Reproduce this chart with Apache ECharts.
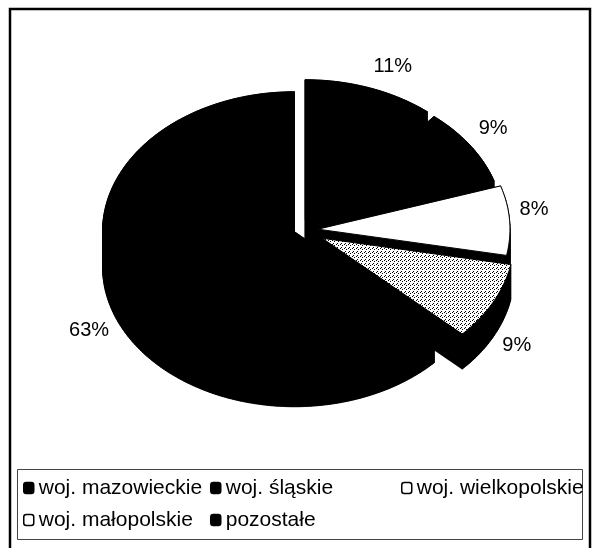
<!DOCTYPE html>
<html>
<head>
<meta charset="utf-8">
<script src="https://cdn.jsdelivr.net/npm/echarts@6/dist/echarts.min.js"></script>
<style>
  body{margin:0;background:#fff;}
  #main{width:594px;height:548px;}
</style>
</head>
<body>
<div id="main"></div>
<script>
  // data
  var names = ['woj. mazowieckie', 'woj. śląskie', 'woj. wielkopolskie', 'woj. małopolskie', 'pozostałe'];
  var values = [11, 9, 8, 9, 63];

  // layout of the tilted pie (top face ellipse + side depth)
  var cx = 300, cy = 230, rx = 192, ry = 140, depth = 35;
  var explode = [15, 14, 18, 25, 6];
  var font = 'Liberation Sans';

  // stippled fill for małopolskie
  var dots = document.createElement('canvas');
  dots.width = 4; dots.height = 4;
  var g = dots.getContext('2d');
  g.fillStyle = '#fff'; g.fillRect(0, 0, 4, 4);
  g.fillStyle = '#000';
  g.fillRect(0, 0, 1, 1); g.fillRect(2, 1, 1, 1); g.fillRect(1, 3, 1, 1);
  var fills = ['#000', '#000', '#fff', {type: 'pattern', image: dots, repeat: 'repeat'}, '#000'];
  var legendFills = ['#000', '#000', '#fff', '#fff', '#000'];

  var total = values.reduce(function (a, b) { return a + b; }, 0);

  function ept(ox, oy, a) {
    return [ox + rx * Math.sin(a), oy - ry * Math.cos(a)];
  }
  function down(p) { return [p[0], p[1] + depth]; }

  function renderSlice(params, api) {
    var i = api.value(0);
    var before = 0;
    for (var k = 0; k < i; k++) before += values[k];
    var a0 = before / total * 2 * Math.PI;
    var a1 = (before + values[i]) / total * 2 * Math.PI;
    var mid = (a0 + a1) / 2;
    var s = Math.sin(mid), c = Math.cos(mid);
    var ox = cx + explode[i] * s;
    var oy = cy - explode[i] * c * ry / rx;
    var o = [ox, oy];
    var n = Math.max(2, Math.ceil((a1 - a0) / (Math.PI / 180)));
    var arc = [];
    for (var j = 0; j <= n; j++) arc.push(ept(ox, oy, a0 + (a1 - a0) * j / n));

    var wall = {fill: '#000', stroke: '#000', lineWidth: 0.5};
    var children = [];
    // side walls
    children.push({type: 'polygon', z2: 1, shape: {points: [down(o)].concat(arc.map(down))}, style: wall});
    children.push({type: 'polygon', z2: 1, shape: {points: [o, arc[0], down(arc[0]), down(o)]}, style: wall});
    children.push({type: 'polygon', z2: 1, shape: {points: [o, arc[n], down(arc[n]), down(o)]}, style: wall});
    for (j = 0; j < n; j++) {
      children.push({type: 'polygon', z2: 1, shape: {points: [arc[j], arc[j + 1], down(arc[j + 1]), down(arc[j])]}, style: wall});
    }
    // top face
    children.push({type: 'polygon', z2: 5, shape: {points: [o].concat(arc)},
      style: {fill: fills[i], stroke: '#000', lineWidth: 1}});
    // label
    children.push({
      type: 'text', z2: 10,
      x: ox + (rx + 10) * s,
      y: oy - (ry + 12) * c + (c < 0 ? depth * 0.8 : 0),
      style: {
        text: Math.round(values[i] / total * 100) + '%',
        fill: '#000', fontSize: 20, fontFamily: font,
        align: s >= 0 ? 'left' : 'right',
        verticalAlign: c >= 0 ? 'bottom' : 'top'
      }
    });
    return {type: 'group', children: children};
  }

  var series = names.map(function (name, i) {
    return {
      type: 'custom',
      name: name,
      coordinateSystem: 'none',
      renderItem: renderSlice,
      itemStyle: {color: legendFills[i]},
      data: [[i]]
    };
  });

  function item(i) {
    return {name: names[i], itemStyle: {color: legendFills[i], borderColor: '#000', borderWidth: 1.5}};
  }
  var legendBase = {
    orient: 'vertical', top: 477, padding: 0, itemGap: 10,
    itemWidth: 10, itemHeight: 11, icon: 'roundRect', selectedMode: false,
    textStyle: {fontSize: 21, fontFamily: font, color: '#000', lineHeight: 22}
  };

  var chart = echarts.init(document.getElementById('main'));
  chart.setOption({
    animation: false,
    backgroundColor: '#fff',
    graphic: [
      {type: 'rect', silent: true, shape: {x: 10, y: 9, width: 580, height: 560},
        style: {fill: 'transparent', stroke: '#000', lineWidth: 2.5}},
      {type: 'rect', silent: true, shape: {x: 17.5, y: 469.5, width: 565, height: 70},
        style: {fill: 'transparent', stroke: '#444', lineWidth: 1}}
    ],
    legend: [
      Object.assign({}, legendBase, {left: 23, data: [item(0), item(3)]}),
      Object.assign({}, legendBase, {left: 210, data: [item(1), item(4)]}),
      Object.assign({}, legendBase, {left: 401, data: [item(2)]})
    ],
    series: series
  });
</script>
</body>
</html>
